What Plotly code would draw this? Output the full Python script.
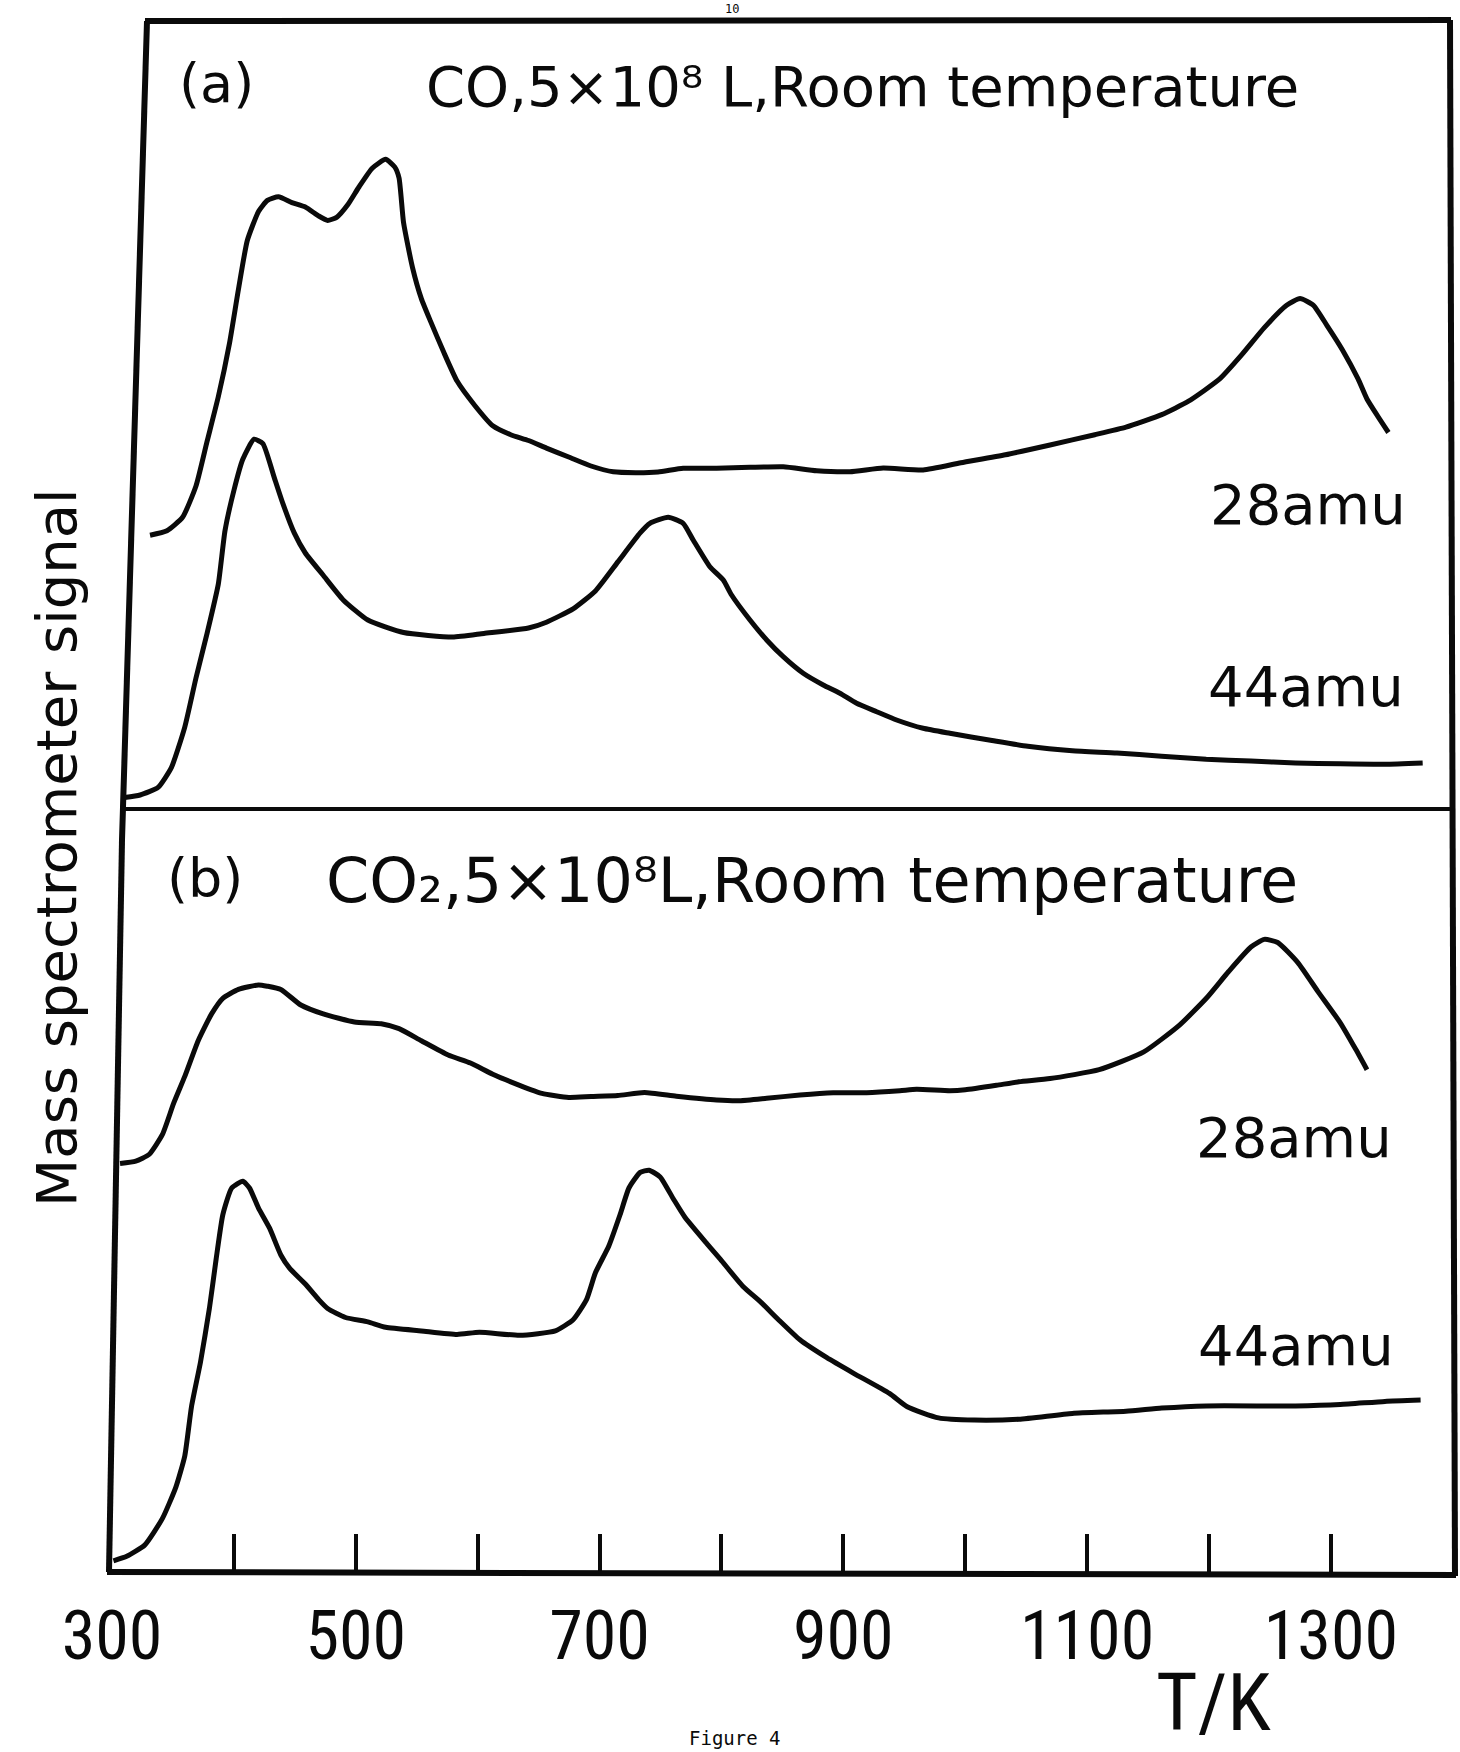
import plotly.graph_objects as go

W, H = 1460, 1752

# ---------------- data (signal in arbitrary units) ----------------
# Panel (a): CO, 5x10^8 L, room temperature
a28_T = [331.2, 345.1, 357.9, 368.9, 378.0, 387.2, 396.4, 403.7, 411.0, 420.2, 427.5, 436.6,
         447.6, 458.6, 469.6, 476.9, 484.3, 493.4, 502.6, 513.5, 524.5, 531.9, 535.5, 539.2,
         546.5, 553.8, 561.2, 572.1, 583.1, 597.8, 612.4, 627.1, 641.7, 656.4, 674.7, 693.0,
         711.3, 729.6, 748.0, 768.6, 796.0, 823.4, 850.7, 878.1, 905.4, 932.7, 965.5, 996.4,
         1033.0, 1069.6, 1106.3, 1131.9, 1161.2, 1183.2, 1208.8, 1227.1, 1245.4, 1263.7, 1274.7,
         1285.7, 1296.7, 1309.5, 1322.3, 1329.6, 1338.8, 1347.2]
a28_S = [273.8, 278.3, 291.7, 323.0, 367.6, 412.2, 465.8, 519.4, 568.5, 597.5, 608.6, 612.2,
         606.4, 602.0, 593.0, 588.6, 591.7, 604.2, 622.0, 640.8, 649.7, 642.1, 631.0, 586.3,
         541.7, 510.4, 488.1, 456.9, 427.9, 403.3, 383.2, 374.3, 368.5, 360.9, 352.0, 343.0,
         337.2, 336.3, 337.0, 340.7, 340.7, 341.7, 342.3, 338.3, 337.3, 341.0, 339.0, 346.2,
         354.2, 364.0, 374.3, 381.9, 394.4, 407.8, 430.1, 454.6, 481.4, 503.7, 510.4,
         503.7, 483.7, 459.1, 430.1, 410.0, 392.1, 376.5]

a44_T = [310.3, 323.1, 337.8, 348.8, 359.7, 368.9, 378.0, 387.2, 392.7, 400.0, 407.3, 416.5,
         423.8, 433.0, 440.3, 449.5, 458.6, 473.3, 489.7, 509.9, 539.2, 579.5, 605.1, 641.7,
         656.4, 678.3, 696.6, 715.0, 733.3, 741.3, 756.3, 768.6, 776.8, 790.5, 801.5, 808.3,
         823.4, 837.1, 850.7, 867.1, 883.5, 897.2, 910.9, 927.3, 943.7, 965.5, 987.4, 1022.0,
         1051.3, 1087.9, 1124.5, 1161.1, 1197.7, 1234.4, 1271.0, 1307.7, 1344.2, 1375.3]
a44_S = [11.4, 14.0, 21.6, 41.7, 81.9, 131.0, 175.6, 224.7, 278.3, 318.5, 349.7, 369.8,
         365.4, 331.9, 305.1, 276.1, 256.0, 233.7, 209.1, 189.0, 176.5, 172.0, 175.6, 181.0,
         186.8, 200.2, 218.1, 247.1, 276.1, 285.7, 291.7, 285.7, 269.0, 242.3, 229.0, 214.0,
         189.0, 169.0, 152.3, 135.7, 124.0, 115.7, 105.7, 97.3, 89.0, 80.7, 75.7, 68.5,
         62.7, 58.2, 56.0, 52.8, 49.7, 47.9, 46.1, 45.2, 44.8, 46.1]

# Panel (b): CO2, 5x10^8 L, room temperature
b28_T = [306.6, 319.5, 330.4, 341.4, 350.6, 359.7, 370.7, 381.7, 390.9, 403.7, 420.2, 427.5,
         438.5, 454.9, 473.3, 498.9, 520.9, 535.5, 553.8, 575.8, 594.1, 612.4, 634.4, 652.7,
         674.7, 693.0, 714.9, 736.9, 763.0, 796.0, 815.1, 837.1, 864.4, 891.7, 919.1, 946.4,
         960.1, 987.4, 1000.1, 1025.7, 1044.0, 1069.6, 1109.9, 1146.5, 1175.8, 1197.8, 1216.1,
         1234.4, 1245.4, 1256.4, 1272.9, 1289.4, 1307.7, 1320.5, 1329.6]
b28_S = [425.5, 427.8, 434.5, 454.6, 485.8, 512.6, 548.3, 575.1, 590.7, 599.6, 604.1, 602.8,
         599.6, 584.0, 575.1, 567.0, 565.3, 560.4, 548.3, 534.0, 526.0, 514.8, 503.7, 495.6,
         491.6, 492.5, 493.4, 496.5, 492.8, 489.0, 488.3, 490.7, 494.0, 496.3, 496.3, 498.3,
         499.7, 498.3, 499.2, 503.7, 507.2, 510.4, 519.3, 537.1, 563.9, 590.7, 617.5,
         642.0, 649.6, 646.5, 626.4, 597.4, 566.2, 539.4, 519.3]

b44_T = [301.2, 312.1, 326.8, 341.4, 352.4, 359.7, 365.2, 372.6, 379.9, 385.4, 390.9, 398.2,
         407.3, 412.8, 420.2, 429.3, 438.5, 445.8, 458.6, 469.6, 476.9, 491.6, 509.9, 524.5,
         553.8, 583.1, 601.4, 634.4, 663.7, 678.3, 689.3, 696.6, 707.6, 716.8, 724.1, 733.3,
         740.6, 749.7, 760.7, 769.9, 788.2, 799.2, 817.5, 832.1, 846.8, 864.4, 886.5, 908.5,
         937.8, 952.4, 978.1, 1007.4, 1044.0, 1087.9, 1131.9, 1161.2, 1197.8, 1271.0, 1307.7,
         1344.3, 1373.6]
b44_S = [28.2, 32.7, 43.9, 70.6, 101.9, 133.1, 182.2, 226.9, 280.5, 329.6, 374.2, 401.0,
         407.7, 401.0, 380.9, 360.8, 334.0, 320.6, 305.0, 289.4, 280.5, 271.5, 267.1, 261.7,
         258.1, 254.6, 256.8, 253.7, 258.1, 269.3, 289.4, 316.2, 343.0, 374.2, 401.0, 416.6,
         418.8, 412.1, 389.8, 372.0, 345.2, 329.6, 302.8, 287.1, 269.3, 249.2, 231.3, 215.7,
         195.6, 182.2, 171.1, 168.9, 169.8, 175.6, 177.8, 180.9, 183.1, 183.1, 184.5,
         187.6, 188.9]

major_ticks = [300, 500, 700, 900, 1100, 1300]
major_text = ["300", "500", "700", "900", "1100", "1300"]
minor_ticks = [400, 600, 800, 1000, 1200]

x_range = [300, 1401]
ya_range = [0, 788]
yb_range = [17, 780]


# ---------------- helpers for layout placement (pixels -> paper) ----------------
def px(x):
    return x / W


def py(y):
    return 1 - y / H


INK = "#0a0a0a"
LABEL_FONT = "DejaVu Sans, Verdana, sans-serif"
NARROW_FONT = "Liberation Sans Narrow, Roboto Condensed, Liberation Sans, Arial, sans-serif"

fig = go.Figure()
curve = dict(color=INK, width=5, shape="spline", smoothing=0.5)
for T, S, xa, ya, name in [
    (a28_T, a28_S, "x2", "y2", "(a) 28 amu"),
    (a44_T, a44_S, "x2", "y2", "(a) 44 amu"),
    (b28_T, b28_S, "x", "y", "(b) 28 amu"),
    (b44_T, b44_S, "x", "y", "(b) 44 amu"),
]:
    fig.add_trace(go.Scatter(x=T, y=S, xaxis=xa, yaxis=ya, mode="lines",
                             line=curve, name=name, showlegend=False,
                             hoverinfo="x+name"))

# hand drawn frame (slightly skewed left edge) and divider
frame_lines = [
    ((147, 21), (122, 840)),
    ((122, 840), (109, 1572)),
    ((145, 21), (1451, 20)),
    ((1450, 20), (1455, 1576)),
    ((107, 1572), (1456, 1575)),
]
shapes = []
for (x0, y0), (x1, y1) in frame_lines:
    shapes.append(dict(type="line", xref="paper", yref="paper",
                       x0=px(x0), y0=py(y0), x1=px(x1), y1=py(y1),
                       line=dict(color=INK, width=6)))
shapes.append(dict(type="line", xref="paper", yref="paper",
                   x0=px(123), y0=py(809), x1=px(1451), y1=py(809),
                   line=dict(color=INK, width=4)))


def ann(text, x, y, size, family=LABEL_FONT, xanchor="left", yanchor="middle", angle=0):
    return dict(text=text, x=px(x), y=py(y), xref="paper", yref="paper",
                xanchor=xanchor, yanchor=yanchor, showarrow=False, textangle=angle,
                font=dict(family=family, size=size, color=INK))


annotations = [
    ann("(a)", 177, 84, 54),
    ann("CO,5×10⁸ L,Room temperature", 424, 86, 56),
    ann("28amu", 1408, 505, 56, xanchor="right"),
    ann("44amu", 1406, 687, 56, xanchor="right"),
    ann("(b)", 165, 878, 54),
    ann("CO₂,5×10⁸L,Room temperature", 324, 880, 62),
    ann("28amu", 1394, 1137, 56, xanchor="right"),
    ann("44amu", 1396, 1345, 56, xanchor="right"),
    ann("Mass spectrometer signal", 56, 848, 56, xanchor="center", angle=-90),
    ann("T/K", 1213, 1752, 80, family=NARROW_FONT, xanchor="center", yanchor="bottom"),
    ann("Figure 4", 735, 1738, 19, family="DejaVu Sans Mono, Liberation Mono, monospace",
        xanchor="center"),
    ann("10", 732, 0, 12, family="DejaVu Sans Mono, Liberation Mono, monospace",
        xanchor="center", yanchor="top"),
]

axis_common = dict(showgrid=False, zeroline=False, showline=False, automargin=False)
fig.update_layout(
    width=W, height=H, autosize=False,
    margin=dict(l=0, r=0, t=0, b=0, pad=0),
    paper_bgcolor="white", plot_bgcolor="white",
    showlegend=False,
    xaxis=dict(domain=[px(112), px(1454)], range=x_range, anchor="y",
               tickmode="array", tickvals=major_ticks, ticktext=major_text,
               ticks="inside", ticklen=38, tickwidth=4, tickcolor=INK,
               minor=dict(tickmode="array", tickvals=minor_ticks, ticks="inside",
                          ticklen=38, tickwidth=4, tickcolor=INK, showgrid=False),
               tickfont=dict(family=NARROW_FONT, size=68, color=INK),
               ticklabelstandoff=18, **axis_common),
    yaxis=dict(domain=[py(1572), py(809)], range=yb_range, visible=False, **axis_common),
    xaxis2=dict(domain=[px(112), px(1454)], range=x_range, anchor="y2", matches="x",
                visible=False, **axis_common),
    yaxis2=dict(domain=[py(809), py(21)], range=ya_range, visible=False, **axis_common),
    shapes=shapes,
    annotations=annotations,
)

fig.write_html("out.html")
